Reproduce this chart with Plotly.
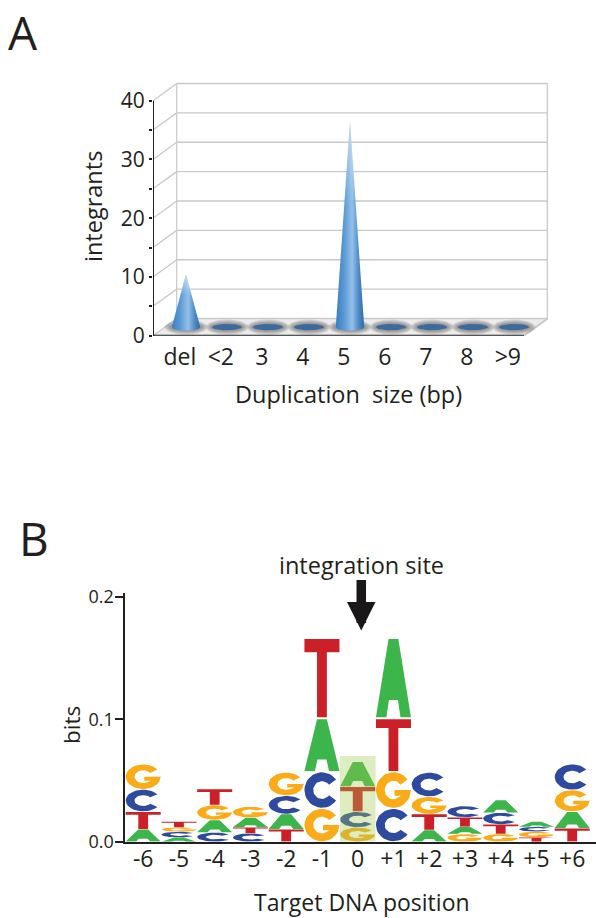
import math
import plotly.graph_objects as go

# ---------- data ----------
dup_labels = ["del", "<2", "3", "4", "5", "6", "7", "8", ">9"]
dup_values = [9, 0, 0, 0, 35, 0, 0, 0, 0]
dup_yticks = [0, 10, 20, 30, 40]
dup_minor = [5, 15, 25, 35]
grid_levels = [0, 5, 10, 15, 20, 25, 30, 35, 40]

pos_labels = ["-6", "-5", "-4", "-3", "-2", "-1", "0", "+1", "+2", "+3", "+4", "+5", "+6"]
pos_values = [-6, -5, -4, -3, -2, -1, 0, 1, 2, 3, 4, 5, 6]
stack_letters = ["ATCG", "ACGT", "CAGT", "CTAG", "TACG", "GCAT", "GCTA",
                 "CGTA", "ATGC", "GATC", "GTCA", "TGCA", "TAGC"]
stack_bits = [
    [.0101, .0144, .0182, .0207],
    [.0035, .0047, .0035, .0046],
    [.0076, .0101, .0123, .0130],
    [.0068, .0049, .0079, .0090],
    [.0101, .0125, .0150, .0190],
    [.0272, .0299, .0436, .0658],
    [.0117, .0128, .0204, .0204],
    [.0272, .0299, .0436, .0658],
    [.0095, .0131, .0141, .0199],
    [.0063, .0059, .0077, .0092],
    [.0063, .0078, .0096, .0103],
    [.0035, .0047, .0040, .0041],
    [.0109, .0136, .0177, .0212],
]
highlight_bits = 0.07
bit_ticks = [0.0, 0.1, 0.2]

# ---------- style ----------
W, H = 596, 918
INK = "#231f20"
FONT = "Open Sans"
LETTER_COL = {"A": "#3cb54a", "C": "#2e4a9e", "G": "#fbab18", "T": "#cb2027"}
GRID = "#c9c9c9"

# panel A pixel frame
A_L, A_R, A_T, A_B = 153, 548, 80, 335.7
A_UNIT_X = 41.0      # px per category
A_X0 = 186.0         # px of first cone
A_UNIT_Y = 5.875     # px per integrant
DX, DY = 23.7 / A_UNIT_X, 17.2 / A_UNIT_Y   # depth offset of the back wall
FLOOR = 8.6 / A_UNIT_Y
A_XR = [(A_L - A_X0) / A_UNIT_X, (A_R - A_X0) / A_UNIT_X]
A_YR = [0, (A_B - A_T) / A_UNIT_Y]
xl, xr = A_XR[0], (524 - A_X0) / A_UNIT_X

# panel B pixel frame
B_L, B_R, B_T, B_B = 124.5, 596, 593, 841.7
B_UNIT_X = 35.75
B_X0 = 357.7
B_UNIT_Y = 1225.0

fig = go.Figure()


def poly(xs, ys, color, xa="x", ya="y", **kw):
    fig.add_trace(go.Scatter(x=xs, y=ys, xaxis=xa, yaxis=ya, mode="lines",
                             line=dict(width=0), fill="toself", fillcolor=color,
                             hoverinfo="skip", showlegend=False, **kw))


def lines(segs, color, width):
    xs, ys = [], []
    for (a, b, c, d) in segs:
        xs += [a, c, None]
        ys += [b, d, None]
    fig.add_trace(go.Scatter(x=xs, y=ys, mode="lines", line=dict(color=color, width=width),
                             hoverinfo="skip", showlegend=False, cliponaxis=False))


def ellipse(cx, cy, rx, ry, n=48):
    a = [2 * math.pi * i / n for i in range(n + 1)]
    return [cx + rx * math.cos(t) for t in a], [cy + ry * math.sin(t) for t in a]


# floor, back wall, left wall
poly([xl, xr, xr + DX, xl + DX, xl], [0, 0, DY, DY, 0], "#ececec")
lines([(xl + DX, g + DY, xr + DX, g + DY) for g in grid_levels], GRID, 1.4)
lines([(xl, g, xl + DX, g + DY) for g in grid_levels], GRID, 1.3)
lines([(xl + DX, DY, xl + DX, 40 + DY)], GRID, 1.2)
lines([(xr + DX, DY, xr + DX, 40 + DY), (xr, 0, xr + DX, DY)], GRID, 2)

# halo and base ellipses
for i, v in enumerate(dup_values):
    for k in range(5):
        ex, ey = ellipse(i, FLOOR, (15 + 1.3 * (k + 1)) / A_UNIT_X, (3.2 + 0.9 * (k + 1)) / A_UNIT_Y)
        poly(ex, ey, "rgba(100,100,100,0.17)")
for i, v in enumerate(dup_values):
    if v == 0:
        ex, ey = ellipse(i, FLOOR, 15 / A_UNIT_X, 3.2 / A_UNIT_Y)
        poly(ex, ey, "#3d6a9c")
    else:
        rx, ry = 14.2 / A_UNIT_X, 3.6 / A_UNIT_Y
        arc = [math.pi + math.pi * j / 24 for j in range(25)]
        cx = [i + rx * math.cos(t) for t in arc] + [i]
        cy = [FLOOR + ry * math.sin(t) for t in arc] + [FLOOR + v]
        poly(cx, cy, "#5a96d2", fillgradient=dict(
            type="horizontal", start=i - rx, stop=i + rx,
            colorscale=[[0, "#3c7cc0"], [0.3, "#5c9ad6"], [0.58, "#93c0ea"],
                        [0.8, "#4f8cc8"], [1, "#2c6aa6"]]))
        poly(cx, cy, "rgba(255,255,255,0)", fillgradient=dict(
            type="vertical", start=FLOOR + v, stop=FLOOR + v * 0.6,
            colorscale=[[0, "rgba(255,255,255,0.5)"], [1, "rgba(255,255,255,0)"]]))

# front axes of panel A
lines([(xl, 0, xl, 40)], INK, 2)
lines([(xl, 0, xr, 0)], INK, 2)


# ---------- glyph outlines in a unit box ----------
def arc_pts(a0, a1, r_u, r_v, n=30):
    return [(r_u * math.cos(math.radians(a0 + (a1 - a0) * i / n)),
             0.5 + r_v * math.sin(math.radians(a0 + (a1 - a0) * i / n))) for i in range(n + 1)]


GLYPH = {
    "T": [(-.5, 1), (.5, 1), (.5, .83), (.14, .83), (.14, 0), (-.14, 0), (-.14, .83), (-.5, .83)],
    "A": [(-.5, 0), (-.2, 0), (-.13, .22), (.13, .22), (.2, 0), (.5, 0), (.14, 1), (-.14, 1),
          (0, .72), (-.08, .36), (.08, .36), (0, .72), (-.14, 1)],
    "C": arc_pts(36, 324, .5, .5) + arc_pts(324, 36, .25, .25),
    "G": arc_pts(36, 335, .5, .5) + [(.5, .5), (.03, .5), (.03, .34), (.24, .34)]
         + arc_pts(320, 36, .25, .26),
}

# logo stacks
letter_paths = {c: ([], []) for c in "ACGT"}
for p, letters, bits in zip(pos_values, stack_letters, stack_bits):
    base = 0.0
    for ch, h in zip(letters, bits):
        px, py = letter_paths[ch]
        for u, v in GLYPH[ch]:
            px.append(p + u * 0.98)
            py.append(base + h * (0.015 + 0.97 * v))
        px.append(None)
        py.append(None)
        base += h
for ch, (px, py) in letter_paths.items():
    poly(px, py, LETTER_COL[ch], xa="x2", ya="y2")

# ---------- layout ----------
shapes = [dict(type="rect", xref="x2", yref="y2", x0=-0.5, x1=0.5, y0=0, y1=highlight_bits,
               fillcolor="rgba(160,200,80,0.35)", line=dict(width=0), layer="above")]


def ann(text, px, py, size, angle=0, **kw):
    return dict(text=text, x=px / W, y=1 - py / H, xref="paper", yref="paper", showarrow=False,
                font=dict(family=FONT, size=size, color=INK), textangle=angle,
                xanchor="center", yanchor="middle", **kw)


annotations = [
    ann("A", 23, 32, 46),
    ann("B", 34, 538, 46),
    ann("integrants", 93, 207, 23.5, angle=-90),
    ann("Duplication\u00a0 size (bp)", 348, 394, 23.5),
    ann("bits", 71, 725, 22.5, angle=-90),
    ann("integration site", 361, 565, 23.5),
    ann("Target DNA position", 362, 902, 23),
    dict(x=0.1, y=0.1725, xref="x2", yref="y2", ax=0, ay=-52, axref="pixel", ayref="pixel",
         text="", showarrow=True, arrowhead=2, arrowsize=0.6, arrowwidth=9.5, arrowcolor="#1a1718"),
]

fig.update_layout(
    width=W, height=H, margin=dict(l=0, r=0, t=0, b=0), autosize=False,
    plot_bgcolor="white", paper_bgcolor="white", showlegend=False,
    font=dict(family=FONT, color=INK),
    shapes=shapes, annotations=annotations,
    xaxis=dict(automargin=False, domain=[A_L / W, A_R / W], range=A_XR, showgrid=False, zeroline=False, showline=False,
               tickmode="array", tickvals=[i - 0.15 for i in range(len(dup_labels))], ticktext=dup_labels,
               ticks="outside", ticklen=1, tickcolor="rgba(0,0,0,0)", tickfont=dict(size=23, family=FONT, color=INK)),
    yaxis=dict(automargin=False, domain=[1 - A_B / H, 1 - A_T / H], range=A_YR, showgrid=False, zeroline=False, showline=False,
               tickmode="array", tickvals=dup_yticks, ticks="outside", ticklen=3, tickwidth=2, tickcolor=INK,
               minor=dict(tickmode="array", tickvals=dup_minor, ticks="outside", ticklen=3, tickwidth=2, tickcolor=INK),
               tickfont=dict(size=21, family=FONT, color=INK)),
    xaxis2=dict(automargin=False, domain=[B_L / W, B_R / W], anchor="y2",
                range=[(B_L - B_X0) / B_UNIT_X, (B_R - B_X0) / B_UNIT_X],
                showgrid=False, zeroline=False, showline=True, linecolor=INK, linewidth=2,
                tickmode="array", tickvals=pos_values, ticktext=pos_labels, ticks="", ticklabelstandoff=-4,
                tickfont=dict(size=23, family=FONT, color=INK)),
    yaxis2=dict(automargin=False, domain=[1 - B_B / H, 1 - B_T / H], anchor="x2", range=[0, (B_B - B_T) / B_UNIT_Y],
                showgrid=False, zeroline=False, showline=True, linecolor=INK, linewidth=2,
                tickmode="array", tickvals=bit_ticks, ticktext=["0.0", "0.1", "0.2"], ticks="outside",
                ticklen=8, tickwidth=1.5, tickcolor=INK, ticklabelstandoff=-3,
                tickfont=dict(size=18, family=FONT, color=INK)),
)

fig.write_html("out.html", config=dict(displayModeBar=False),
               post_script="document.body.style.margin='0';document.documentElement.style.overflow='hidden';")
